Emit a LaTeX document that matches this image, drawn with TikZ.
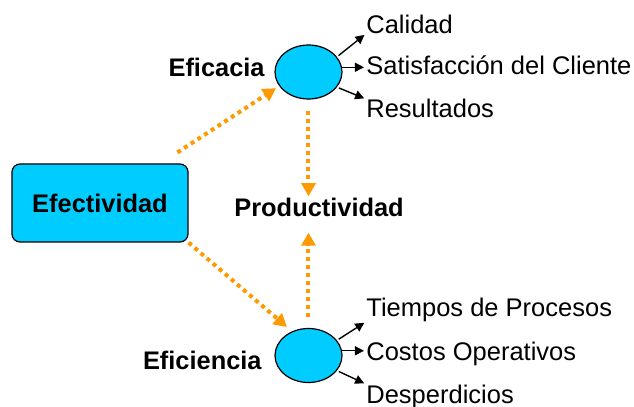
\documentclass[tikz,border=0pt]{standalone}
\usepackage{fontspec}
\setmainfont{Liberation Sans}
\usetikzlibrary{arrows.meta,shapes.geometric}
\definecolor{celeste}{HTML}{00CCFF}
\definecolor{naranja}{HTML}{FF9900}
\begin{document}
\begin{tikzpicture}[x=0.5pt,y=-0.5pt,font=\fontsize{12.75}{15}\selectfont,
	caja/.style={draw,line width=0.6pt,fill=celeste,rounded corners=4pt,minimum width=88pt,minimum height=39pt,font=\fontsize{12.7}{15}\selectfont\bfseries},
	elipse/.style={draw,ellipse,line width=0.6pt,fill=celeste,inner sep=0pt,minimum width=33.5pt,minimum height=27pt},
	titulo/.style={inner sep=0pt,font=\fontsize{12.7}{15}\selectfont\bfseries},
	item/.style={inner sep=0pt,anchor=base west},
	punteada/.style={naranja,line width=2pt,dash pattern=on 2pt off 2pt,-{Triangle[width=7pt,length=6.5pt]}},
	flecha/.style={line width=0.7pt,-{Triangle[width=4.5pt,length=4.5pt]}}]
\useasboundingbox (0,0) rectangle (634,407);
% nodos principales
\node[caja] (efe) at (100,203) {Efectividad};
\node[elipse] (efa) at (308.5,72) {};
\node[elipse] (efi) at (308.5,355.5) {};
\node[titulo,anchor=base east] (tefa) at (265,76) {Eficacia};
\node[titulo,anchor=base east] (tefi) at (262,370) {Eficiencia};
\node[titulo,anchor=base west] (prod) at (234,217) {Productividad};
% resultados
\node[item] (cal) at (366,33) {Calidad};
\node[item] (sat) at (366,75) {Satisfacción del Cliente};
\node[item] (res) at (366,118) {Resultados};
\node[item] (tie) at (366,316) {Tiempos de Procesos};
\node[item] (cos) at (366,360) {Costos Operativos};
\node[item] (des) at (366,403) {Desperdicios};
\draw[flecha,shorten <=1pt,shorten >=1pt] (efa.28) -- (cal.south west);
\draw[flecha,shorten >=1pt] (efa.8) -- (efa.8 -| sat.west);
\draw[flecha,shorten <=1pt,shorten >=1pt] (efa.-28) -- (res.north west);
\draw[flecha,shorten <=1pt,shorten >=1pt] (efi.28) -- (tie.south west);
\draw[flecha,shorten >=1pt] (efi.8) -- (efi.8 -| cos.west);
\draw[flecha,shorten <=1pt,shorten >=1pt] (efi.-28) -- (des.north west);
% flechas punteadas
\draw[punteada,shorten <=10pt,shorten >=19.4pt] (efe) -- ([yshift=2.5pt]efa.center);
\draw[punteada,shorten >=14.2pt] (efe.south east) -- ([yshift=5pt]efi.center);
\draw[punteada,shorten <=5.5pt,shorten >=1pt] (efa.south) -- (efa.south |- prod.north);
\draw[punteada,shorten <=5.5pt,shorten >=7.5pt] (efi.north) -- (efi.north |- prod.south);
\end{tikzpicture}
\end{document}
